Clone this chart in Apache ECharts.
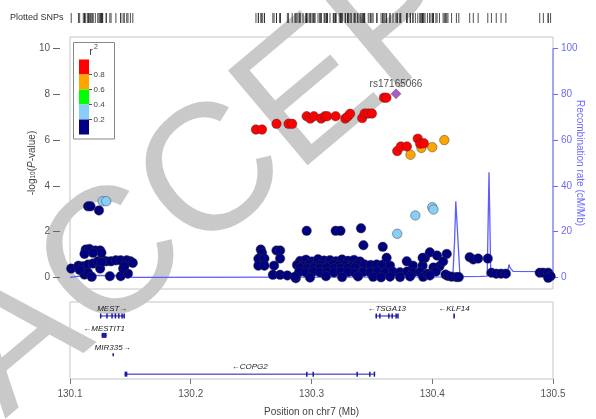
<!DOCTYPE html>
<html><head><meta charset="utf-8">
<script src="https://cdn.jsdelivr.net/npm/echarts@6/dist/echarts.min.js"></script>
<style>html,body{margin:0;padding:0;background:#fff}#c{width:596px;height:419px}</style>
</head><body><div id="c"></div>
<script>
// ---------- data ----------
const xTicks = [130.1, 130.2, 130.3, 130.4, 130.5];
const pTicks = [0, 2, 4, 6, 8, 10];
const rTicks = [0, 20, 40, 60, 80, 100];

const leadName = 'rs17165066';
const leadSnp = [[130.370, 8.02]];

// r2 > 0.8
const snpsRed = [
  [130.254,6.46],[130.259,6.46],[130.271,6.71],[130.281,6.71],[130.284,6.71],
  [130.296,7.04],[130.299,6.94],[130.302,7.04],[130.308,6.94],[130.311,7.04],
  [130.313,7.04],[130.320,7.04],[130.328,6.94],[130.330,7.03],[130.332,7.15],
  [130.342,6.96],[130.344,7.16],[130.347,7.16],[130.350,7.16],[130.360,7.85],
  [130.362,7.85],[130.371,5.52],[130.374,5.72],[130.379,5.72],[130.388,6.06],
  [130.390,5.84],[130.393,5.86]
];
// 0.6 - 0.8
const snpsOrange = [[130.382,5.36],[130.391,5.66],[130.400,5.69],[130.410,6.00]];
// 0.4 - 0.6
const snpsGreen = [];
// 0.2 - 0.4
const snpsLightBlue = [[130.127,3.33],[130.130,3.33],[130.371,1.91],[130.386,2.71],[130.400,3.07],[130.401,2.97]];
// 0 - 0.2
const snpsNavy = [
  [130.115,3.11],[130.117,3.11],[130.124,2.93],[130.296,2.04],[130.320,2.04],[130.324,2.04],
  [130.341,2.15],[130.343,1.41],[130.359,1.34],
  // left cluster
  [130.101,0.39],[130.107,0.52],[130.111,0.49],[130.115,0.57],[130.119,0.61],[130.123,0.71],
  [130.127,0.75],[130.130,0.71],[130.134,0.71],[130.138,0.75],[130.142,0.75],[130.147,0.75],
  [130.150,0.71],[130.152,0.64],[130.113,1.22],[130.116,1.25],[130.121,1.18],[130.125,1.18],
  [130.126,1.08],[130.112,1.03],[130.119,1.08],[130.112,0.13],[130.115,0.20],[130.118,0.03],
  [130.133,0.06],[130.142,0.06],[130.148,0.17],[130.125,0.39],[130.144,0.39],[130.126,0.67],
  [130.145,0.49],[130.108,0.33],
  // middle-left group
  [130.258,1.22],[130.259,1.08],[130.271,1.18],[130.274,1.18],[130.274,0.83],[130.256,0.82],
  [130.261,0.83],[130.256,0.52],[130.261,0.52],[130.269,0.52],[130.268,0.12],[130.274,0.12],
  [130.280,0.09],[130.287,-0.03],
  // central band
  [130.2905,0.72],[130.2954,0.78],[130.3004,0.70],[130.3054,0.80],[130.3104,0.74],[130.3153,0.76],
  [130.3203,0.71],[130.3253,0.79],[130.3302,0.73],[130.3352,0.77],[130.3402,0.70],
  [130.2880,0.55],[130.2930,0.50],[130.2980,0.58],[130.3030,0.52],[130.3080,0.56],[130.3130,0.50],
  [130.3180,0.57],[130.3230,0.53],[130.3280,0.55],[130.3330,0.50],[130.3380,0.56],[130.3440,0.57],
  [130.3490,0.55],[130.3540,0.57],[130.3590,0.56],[130.3650,0.52],[130.3840,0.52],[130.3920,0.52],
  [130.2905,0.42],[130.2963,0.40],[130.3021,0.43],[130.3070,0.41],[130.3128,0.44],[130.3186,0.40],
  [130.3244,0.42],[130.3302,0.41],[130.3360,0.43],
  [130.2897,0.24],[130.2955,0.22],[130.3013,0.26],[130.3070,0.23],[130.3128,0.25],[130.3186,0.22],
  [130.3244,0.26],[130.3302,0.24],[130.3360,0.21],[130.3427,0.25],[130.3485,0.23],[130.3543,0.26],
  [130.3609,0.22],[130.3675,0.25],[130.3733,0.23],[130.3791,0.26],[130.3840,0.22],[130.3898,0.24],
  [130.2863,0.04],[130.2988,0.00],[130.3120,0.06],[130.3253,0.02],[130.3385,0.05],[130.3510,0.03],
  [130.3576,0.01],[130.3650,0.04],[130.3733,0.02],[130.3816,0.05],[130.3924,0.03],
  [130.3622,0.86],[130.3789,0.71],[130.3940,0.86],
  // right of the peak
  [130.392,0.86],[130.398,1.10],[130.404,0.96],[130.412,1.03],[130.406,0.49],[130.409,0.70],
  [130.401,0.44],[130.403,0.26],[130.396,0.17],[130.398,0.09],[130.411,0.13],[130.413,0.07],
  [130.416,0.04],[130.420,0.02],[130.422,0.02],
  [130.431,0.89],[130.434,0.79],[130.438,0.83],[130.446,0.83],[130.449,0.21],[130.453,0.17],
  [130.457,0.17],[130.461,0.17],
  [130.489,0.21],[130.492,0.21],[130.496,0.21],[130.498,0.06],[130.496,-0.01]
];

// recombination rate (cM/Mb)
const recombPos  = [130.100,130.112,130.149,130.151,130.300,130.417,130.4185,130.4195,130.423,130.440,130.4455,130.447,130.4485,130.457,130.4625,130.4635,130.4645,130.467,130.500];
const recombRate = [0.1,    0.9,    0.8,    0.1,    0.2,    0.3,    16,      33.3,    0.4,    0.5,    0.6,     46,     0.6,     1.0,    2.0,     5.7,     4.2,     2.7,    2.6];

// genes
const geneNames  = ['MEST','MESTIT1','MIR335','COPG2','TSGA13','KLF14'];
const geneStrand = ['+','-','+','-','-','-'];
const geneStart  = [130.1248,130.1262,130.1352,130.1452,130.3530,130.4175];
const geneEnd    = [130.1452,130.1303,130.1354,130.3525,130.3716,130.4185];
const geneRow    = [0,1,2,3,0,0];
const geneExons  = [
  [[130.1248,130.1252],[130.1300,130.1306],[130.1342,130.1347],[130.1370,130.1375],[130.1398,130.1403],[130.1425,130.1431],[130.1442,130.1452]],
  [[130.1262,130.1303]],
  [[130.1352,130.1354]],
  [[130.1452,130.1475],[130.2955,130.2965],[130.3008,130.3012],[130.3372,130.3376],[130.3477,130.3481],[130.3515,130.3525]],
  [[130.3530,130.3536],[130.3560,130.3564],[130.3634,130.3638],[130.3662,130.3666],[130.3695,130.3699],[130.3710,130.3716]],
  [[130.4175,130.4185]]
];

const legendColors = ['#FF0000','#FFA500','#00FF00','#87CEFA','#000080'];
const legendLabels = ['0.8','0.6','0.4','0.2'];

// ---------- chart ----------
const FONT = 'Liberation Sans, Arial, Helvetica, sans-serif';
const chart = echarts.init(document.getElementById('c'), null, {renderer: 'canvas'});
const allSnps = [].concat(snpsNavy, snpsLightBlue, snpsGreen, snpsOrange, snpsRed, leadSnp);
const border = {borderColor: 'rgba(50,50,50,0.75)', borderWidth: 0.6};

function scatter(name, data, color) {
  return {name, type: 'scatter', xAxisIndex: 0, yAxisIndex: 0, data, symbolSize: 9.5, z: 3,
    itemStyle: Object.assign({color, opacity: 1}, border), animation: false};
}

const legendGraphics = [];
legendGraphics.push({type: 'rect', shape: {x: 73.5, y: 42.5, width: 41, height: 96.5},
  style: {fill: '#fff', stroke: '#888', lineWidth: 1}, z: 5});
legendGraphics.push({type: 'text', x: 91, y: 52, style: {text: 'r', font: '11px ' + FONT, fill: '#444', textAlign: 'center', textVerticalAlign: 'middle'}, z: 6});
legendGraphics.push({type: 'text', x: 96, y: 47, style: {text: '2', font: '7px ' + FONT, fill: '#444', textAlign: 'center', textVerticalAlign: 'middle'}, z: 6});
legendColors.forEach((c, i) => {
  legendGraphics.push({type: 'rect', shape: {x: 79, y: 59.5 + i * 15, width: 10, height: 15},
    style: {fill: c, stroke: null}, z: 6});
});
legendLabels.forEach((l, i) => {
  const y = 74.5 + i * 15;
  legendGraphics.push({type: 'line', shape: {x1: 89, y1: y, x2: 92, y2: y}, style: {stroke: '#555', lineWidth: 1}, z: 6});
  legendGraphics.push({type: 'text', x: 93.5, y: y, style: {text: l, font: '8px ' + FONT, fill: '#444', textVerticalAlign: 'middle'}, z: 6});
});

const watermark = {type: 'text', x: 31, y: 450, rotation: 40 * Math.PI / 180, z: 0, silent: true,
  style: {text: 'ACCEPTED MANUSCRIPT', font: '180px ' + FONT, fill: '#c9c9c9', textAlign: 'left', textVerticalAlign: 'bottom'}};

const gridBase = {left: 70, right: 43, outerBoundsMode: 'none', containLabel: false};
const option = {
  backgroundColor: '#fff',
  animation: false,
  textStyle: {fontFamily: FONT},
  grid: [
    Object.assign({top: 37, height: 252, show: true, borderColor: '#c4c4c4', borderWidth: 1, backgroundColor: 'transparent'}, gridBase),
    Object.assign({top: 302, height: 77, show: true, borderColor: '#c4c4c4', borderWidth: 1, backgroundColor: 'transparent'}, gridBase),
    Object.assign({top: 13, height: 10, show: false}, gridBase)
  ],
  xAxis: [
    {gridIndex: 0, type: 'value', min: xTicks[0], max: xTicks[xTicks.length - 1], show: false},
    {gridIndex: 1, type: 'value', min: xTicks[0], max: xTicks[xTicks.length - 1], position: 'bottom',
      axisLine: {show: false, onZero: false}, splitLine: {show: false},
      axisTick: {show: true, length: 5, lineStyle: {color: '#777'}, customValues: xTicks},
      axisLabel: {color: '#555', fontSize: 10, margin: 10, customValues: xTicks, formatter: v => v.toFixed(1)},
      name: 'Position on chr7 (Mb)', nameLocation: 'middle', nameGap: 28, nameMoveOverlap: false,
      nameTextStyle: {color: '#444', fontSize: 10}},
    {gridIndex: 2, type: 'value', min: xTicks[0], max: xTicks[xTicks.length - 1], show: false}
  ],
  yAxis: [
    {gridIndex: 0, type: 'value', min: -0.5, max: 10.5, position: 'left', offset: 10,
      axisLine: {show: false, onZero: false}, splitLine: {show: false},
      axisTick: {show: true, length: 7, lineStyle: {color: '#666'}, customValues: pTicks},
      axisLabel: {color: '#555', fontSize: 10, margin: 10, customValues: pTicks},
      name: '-log{s|10}({i|P}-value)', nameLocation: 'middle', nameGap: 23, nameRotate: 90, nameMoveOverlap: false,
      nameTextStyle: {color: '#444', fontSize: 10,
        rich: {s: {fontSize: 6.5, color: '#444', verticalAlign: 'bottom', padding: [3, 0, 0, 0]}, i: {fontStyle: 'italic', fontSize: 10, color: '#444'}}}},
    {gridIndex: 0, type: 'value', min: -5, max: 105, position: 'right',
      axisLine: {show: false, onZero: false}, splitLine: {show: false},
      axisTick: {show: true, length: 5, lineStyle: {color: '#6a6aff'}, customValues: rTicks},
      axisLabel: {color: '#6a6aff', fontSize: 10, margin: 8, customValues: rTicks},
      name: 'Recombination rate (cM/Mb)', nameLocation: 'middle', nameGap: 22, nameRotate: -90, nameMoveOverlap: false,
      nameTextStyle: {color: '#6a6aff', fontSize: 10}},
    {gridIndex: 1, type: 'value', min: -0.72, max: 3.25, inverse: true, show: false},
    {gridIndex: 2, type: 'value', min: 0, max: 1, show: false}
  ],
  graphic: [watermark,
    {type: 'text', x: 10, y: 18, style: {text: 'Plotted SNPs', font: '9px ' + FONT, fill: '#333', textVerticalAlign: 'middle'}}
  ].concat(legendGraphics),
  series: [
    {name: 'recomb', type: 'line', xAxisIndex: 0, yAxisIndex: 1, showSymbol: false, z: 1,
      data: recombPos.map((p, i) => [p, recombRate[i]]),
      lineStyle: {color: '#5c5cff', width: 1.3}, silent: true},
    {name: 'raxis', type: 'line', xAxisIndex: 0, yAxisIndex: 1, showSymbol: false, clip: false, z: 1,
      data: [[xTicks[xTicks.length - 1], rTicks[0]], [xTicks[xTicks.length - 1], rTicks[rTicks.length - 1]]],
      lineStyle: {color: '#6a6aff', width: 1}, silent: true},
    scatter('r2 0-0.2', snpsNavy, legendColors[4]),
    scatter('r2 0.2-0.4', snpsLightBlue, legendColors[3]),
    scatter('r2 0.4-0.6', snpsGreen, legendColors[2]),
    scatter('r2 0.6-0.8', snpsOrange, legendColors[1]),
    scatter('r2 0.8-1', snpsRed, legendColors[0]),
    {name: 'lead', type: 'scatter', xAxisIndex: 0, yAxisIndex: 0, data: leadSnp, symbol: 'diamond', symbolSize: 10, z: 4,
      itemStyle: Object.assign({color: '#9632B8'}, border),
      label: {show: true, position: 'top', distance: -1, formatter: leadName, color: '#222', fontSize: 10}},
    {name: 'rug', type: 'scatter', xAxisIndex: 2, yAxisIndex: 3, symbol: 'rect', symbolSize: [1, 10],
      data: allSnps.map(d => [d[0], 0.5]), itemStyle: {color: '#222'}, silent: true},
    {name: 'genes', type: 'custom', xAxisIndex: 1, yAxisIndex: 2, clip: false,
      data: geneNames.map((n, i) => [geneStart[i], geneEnd[i], geneRow[i], i]),
      renderItem: function (params, api) {
        const i = api.value(3);
        const row = api.value(2);
        const p1 = api.coord([api.value(0), row]);
        const p2 = api.coord([api.value(1), row]);
        const color = '#1a1aa8';
        const children = [];
        children.push({type: 'line', shape: {x1: p1[0], y1: p1[1], x2: p2[0], y2: p2[1]}, style: {stroke: color, lineWidth: 1}});
        const h = geneNames[i] === 'MIR335' ? 3 : 5;
        geneExons[i].forEach(e => {
          const a = api.coord([e[0], row]), b = api.coord([e[1], row]);
          const w = Math.max(1.5, b[0] - a[0]);
          children.push({type: 'rect', shape: {x: a[0], y: a[1] - h / 2, width: w, height: h}, style: {fill: color}});
        });
        const label = geneStrand[i] === '+' ? geneNames[i] + '\u2192' : '\u2190' + geneNames[i];
        children.push({type: 'text', x: (p1[0] + p2[0]) / 2, y: p1[1] - 7,
          style: {text: label, font: 'italic 8px ' + FONT, fill: '#222', textAlign: 'center', textVerticalAlign: 'middle'}});
        return {type: 'group', children};
      }}
  ]
};
chart.setOption(option);
</script></body></html>
